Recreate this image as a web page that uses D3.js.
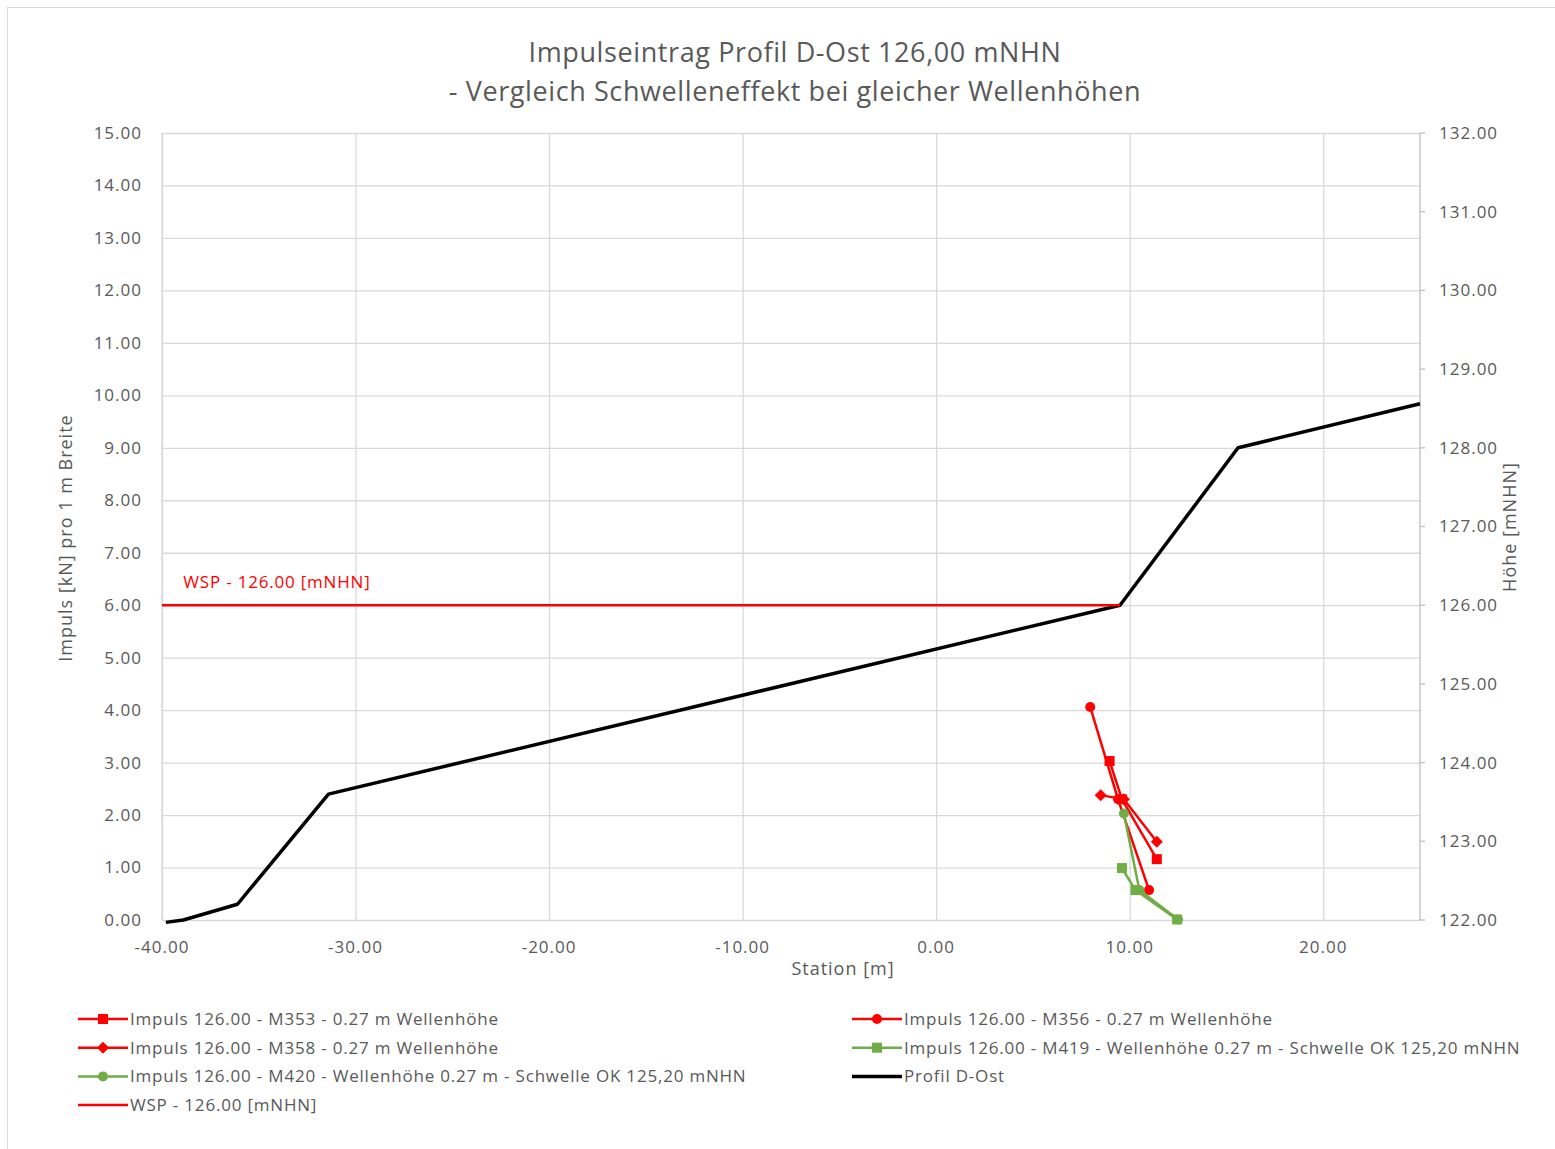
<!DOCTYPE html>
<html>
<head>
<meta charset="utf-8">
<script src="https://cdn.jsdelivr.net/npm/d3@7"></script>
<style>
  body { margin: 0; background: #fff; }
  text { font-family: "Open Sans", sans-serif; fill: #595959; }
  .grid line { stroke: #d9d9d9; stroke-width: 1.3; }
  .grid .domain { display: none; }
</style>
</head>
<body>
<div id="chart"></div>
<script>
// Chart data
var xTicks = [-40, -30, -20, -10, 0, 10, 20];
var yLeftTicks = [0, 1, 2, 3, 4, 5, 6, 7, 8, 9, 10, 11, 12, 13, 14, 15];
var yRightTicks = [122, 123, 124, 125, 126, 127, 128, 129, 130, 131, 132];

var profilStation = [-39.8, -38.9, -36.1, -31.4, 9.5, 15.6, 25.0];
var profilHoehe = [121.97, 122.0, 122.2, 123.6, 126.0, 128.0, 128.56];

var wspStation = [-40, 9.5];
var wspImpuls = [6.0, 6.0];

var m353Station = [8.96, 9.6, 11.4];
var m353Impuls = [3.03, 2.3, 1.16];
var m356Station = [7.96, 9.4, 11.0];
var m356Impuls = [4.06, 2.3, 0.57];
var m358Station = [8.5, 9.7, 11.4];
var m358Impuls = [2.38, 2.3, 1.49];
var m419Station = [9.6, 10.3, 12.45];
var m419Impuls = [0.99, 0.57, 0.01];
var m420Station = [9.7, 10.5, 12.5];
var m420Impuls = [2.03, 0.57, 0.01];

var titleLines = ['Impulseintrag Profil D-Ost 126,00 mNHN', '- Vergleich Schwelleneffekt bei gleicher Wellenhöhen'];

var series = [
    { name: 'Impuls 126.00 - M353 - 0.27 m Wellenhöhe', xs: m353Station, ys: m353Impuls, color: '#ff0000', marker: 'square' },
    { name: 'Impuls 126.00 - M356 - 0.27 m Wellenhöhe', xs: m356Station, ys: m356Impuls, color: '#ff0000', marker: 'circle' },
    { name: 'Impuls 126.00 - M358 - 0.27 m Wellenhöhe', xs: m358Station, ys: m358Impuls, color: '#ff0000', marker: 'diamond' },
    { name: 'Impuls 126.00 - M419 - Wellenhöhe 0.27 m - Schwelle OK 125,20 mNHN', xs: m419Station, ys: m419Impuls, color: '#70ad47', marker: 'square' },
    { name: 'Impuls 126.00 - M420 - Wellenhöhe 0.27 m - Schwelle OK 125,20 mNHN', xs: m420Station, ys: m420Impuls, color: '#70ad47', marker: 'circle' }
];

// Dimensions
var W = 1555, H = 1149;
var margin = { top: 133, right: 135, bottom: 229, left: 162 };
var width = W - margin.left - margin.right;
var height = H - margin.top - margin.bottom;

var svg = d3.select('#chart').append('svg')
    .attr('width', W)
    .attr('height', H);

// Outer chart frame
svg.append('rect')
    .attr('x', 7.5).attr('y', 7.5)
    .attr('width', W).attr('height', H)
    .attr('fill', 'none')
    .attr('stroke', '#d9d9d9');

var g = svg.append('g')
    .attr('transform', 'translate(' + margin.left + ',' + margin.top + ')');

// Scales
var x = d3.scaleLinear().domain([-40, 25]).range([0, width]);
var y = d3.scaleLinear().domain([0, 15]).range([height, 0]);
var y2 = d3.scaleLinear().domain([122, 132]).range([height, 0]);

// Grid lines
g.append('g')
    .attr('class', 'grid')
    .call(d3.axisLeft(y).tickValues(yLeftTicks).tickSize(-width).tickFormat(''));
g.append('g')
    .attr('class', 'grid')
    .attr('transform', 'translate(0,' + height + ')')
    .call(d3.axisBottom(x).tickValues(xTicks).tickSize(-height).tickFormat(''));

// Axis lines
g.append('line').attr('x1', 0).attr('x2', 0).attr('y1', 0).attr('y2', height)
    .attr('stroke', '#d9d9d9').attr('stroke-width', 1.3);
g.append('line').attr('x1', width).attr('x2', width).attr('y1', 0).attr('y2', height)
    .attr('stroke', '#bfbfbf').attr('stroke-width', 1.3);

// Right axis tick marks
g.selectAll('.rtick')
    .data(yRightTicks)
    .enter()
    .append('line')
    .attr('x1', width).attr('x2', width + 5)
    .attr('y1', function (d) { return y2(d); })
    .attr('y2', function (d) { return y2(d); })
    .attr('stroke', '#bfbfbf').attr('stroke-width', 1.3);

// Tick labels
g.selectAll('.ylab')
    .data(yLeftTicks)
    .enter()
    .append('text')
    .attr('x', -20)
    .attr('y', function (d) { return y(d); })
    .attr('dy', '0.35em')
    .attr('text-anchor', 'end')
    .style('font-size', '17px')
    .style('letter-spacing', '1px')
    .text(function (d) { return d.toFixed(2); });

g.selectAll('.y2lab')
    .data(yRightTicks)
    .enter()
    .append('text')
    .attr('x', width + 19)
    .attr('y', function (d) { return y2(d); })
    .attr('dy', '0.35em')
    .attr('text-anchor', 'start')
    .style('font-size', '17px')
    .style('letter-spacing', '1px')
    .text(function (d) { return d.toFixed(2); });

g.selectAll('.xlab')
    .data(xTicks)
    .enter()
    .append('text')
    .attr('x', function (d) { return x(d); })
    .attr('y', height + 33)
    .attr('text-anchor', 'middle')
    .style('font-size', '17px')
    .style('letter-spacing', '1px')
    .text(function (d) { return d.toFixed(2); });

// Axis titles
g.append('text')
    .attr('x', 681).attr('y', height + 55)
    .attr('text-anchor', 'middle')
    .style('font-size', '18px')
    .style('letter-spacing', '1px')
    .text('Station [m]');
g.append('text')
    .attr('transform', 'translate(-90,' + 405 + ') rotate(-90)')
    .attr('text-anchor', 'middle')
    .style('font-size', '18px')
    .style('letter-spacing', '1px')
    .text('Impuls [kN] pro 1 m Breite');
g.append('text')
    .attr('transform', 'translate(' + (width + 96) + ',' + 394 + ') rotate(-90)')
    .attr('text-anchor', 'middle')
    .style('font-size', '18px')
    .style('letter-spacing', '1px')
    .text('Höhe [mNHN]');

// Title
svg.selectAll('.title')
    .data(titleLines)
    .enter()
    .append('text')
    .attr('x', 795)
    .attr('y', function (d, i) { return 62 + i * 39; })
    .attr('text-anchor', 'middle')
    .style('font-size', '27px')
    .style('letter-spacing', '0.6px')
    .text(function (d) { return d; });

// Profile line (right axis)
var profilData = profilStation.map(function (d, i) { return [d, profilHoehe[i]]; });
g.append('path')
    .datum(profilData)
    .attr('fill', 'none')
    .attr('stroke', '#000')
    .attr('stroke-width', 3.5)
    .attr('stroke-linejoin', 'round')
    .attr('d', d3.line().x(function (d) { return x(d[0]); }).y(function (d) { return y2(d[1]); }));

// WSP line
var wspData = wspStation.map(function (d, i) { return [d, wspImpuls[i]]; });
g.append('path')
    .datum(wspData)
    .attr('fill', 'none')
    .attr('stroke', '#ff0000')
    .attr('stroke-width', 2.5)
    .attr('d', d3.line().x(function (d) { return x(d[0]); }).y(function (d) { return y(d[1]); }));
g.append('text')
    .attr('x', x(-38.9)).attr('y', y(6) - 17)
    .style('font-size', '17px')
    .style('letter-spacing', '0.8px')
    .style('fill', '#ff0000')
    .text('WSP - 126.00 [mNHN]');

// Marker drawing helper
function drawMarker(sel, type, color, cx, cy) {
    if (type === 'square') {
        sel.append('rect').attr('x', cx - 5).attr('y', cy - 5).attr('width', 10).attr('height', 10).attr('fill', color);
    } else if (type === 'circle') {
        sel.append('circle').attr('cx', cx).attr('cy', cy).attr('r', 5).attr('fill', color);
    } else {
        // square diamond, same width and height
        sel.append('path').attr('d', 'M0,-6L6,0L0,6L-6,0Z').attr('transform', 'translate(' + cx + ',' + cy + ')').attr('fill', color);
    }
}

// Impuls series
series.forEach(function (s) {
    var pts = s.xs.map(function (d, i) { return [d, s.ys[i]]; });
    g.append('path')
        .datum(pts)
        .attr('fill', 'none')
        .attr('stroke', s.color)
        .attr('stroke-width', 2.5)
        .attr('d', d3.line().x(function (d) { return x(d[0]); }).y(function (d) { return y(d[1]); }));
    var mg = g.append('g');
    pts.forEach(function (p) { drawMarker(mg, s.marker, s.color, x(p[0]), y(p[1])); });
});

// Legend
var legendItems = [
    { s: series[0], col: 0, row: 0 },
    { s: series[1], col: 1, row: 0 },
    { s: series[2], col: 0, row: 1 },
    { s: series[3], col: 1, row: 1 },
    { s: series[4], col: 0, row: 2 },
    { s: { name: 'Profil D-Ost', color: '#000', marker: null, width: 3.5 }, col: 1, row: 2 },
    { s: { name: 'WSP - 126.00 [mNHN]', color: '#ff0000', marker: null, width: 2.5 }, col: 0, row: 3 }
];
var legend = svg.append('g');
legendItems.forEach(function (it) {
    var lx = it.col === 0 ? 78 : 852;
    var ly = 1019 + it.row * 28.7;
    legend.append('line')
        .attr('x1', lx).attr('x2', lx + 50).attr('y1', ly).attr('y2', ly)
        .attr('stroke', it.s.color).attr('stroke-width', it.s.width || 2.5);
    if (it.s.marker) drawMarker(legend, it.s.marker, it.s.color, lx + 25, ly);
    legend.append('text')
        .attr('x', lx + 52).attr('y', ly)
        .attr('dy', '0.35em')
        .style('font-size', '17px')
        .style('letter-spacing', '0.8px')
        .text(it.s.name);
});
</script>
</body>
</html>
